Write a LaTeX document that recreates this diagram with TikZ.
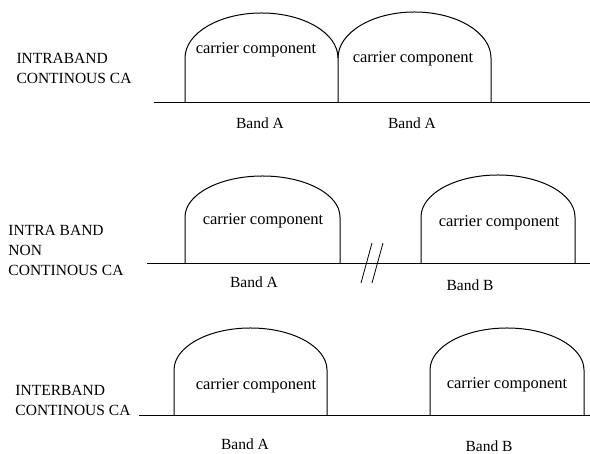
\documentclass[tikz,border=0pt]{standalone}
\usepackage{fontspec}
\setmainfont{Liberation Serif}
\begin{document}
\begin{tikzpicture}[x=1pt,y=1pt,line width=1pt,
  cc/.style={font=\fontsize{16.5}{19}\selectfont,inner sep=0pt},
  band/.style={font=\fontsize{15.5}{18}\selectfont,inner sep=0pt},
  lbl/.style={font=\fontsize{15.5}{20}\selectfont,align=left,anchor=west,inner sep=0pt},
  dome/.style={line join=round}]
\useasboundingbox (0,0) rectangle (590,454);
% ---------- panel 1 ----------
\coordinate (b1s) at (154,351);
\coordinate (b1e) at (590,351);
\draw (b1s) -- (b1e);
\draw[dome] (185,351) -- (185,396) arc[start angle=180,end angle=0,x radius=76.5pt,y radius=45pt] -- (338,351);
\draw[dome] (338,396) arc[start angle=180,end angle=0,x radius=76.5pt,y radius=46pt] -- (491,351);
\node[cc] (c11) at (256,404) {carrier component};
\node[cc] (c12) at (413,395) {carrier component};
\node[band] (ba11) at (260,331) {Band A};
\node[band] (ba12) at (412,331) {Band A};
\node[lbl] (l1) at (16,386) {INTRABAND\\CONTINOUS CA};
% ---------- panel 2 ----------
\coordinate (b2s) at (147,190);
\coordinate (b2e) at (590,190);
\draw (b2s) -- (b2e);
\draw[dome] (185,190) -- (185,237) arc[start angle=180,end angle=0,x radius=77.5pt,y radius=41pt] -- (340,190);
\draw[dome] (421,190) -- (421,237) arc[start angle=180,end angle=0,x radius=77pt,y radius=42pt] -- (575,190);
\node[cc] (c21) at (263,233) {carrier component};
\node[cc] (c22) at (499,231) {carrier component};
\node[band] (ba21) at (254,172) {Band A};
\node[band] (ba22) at (470,169) {Band B};
\node[lbl] (l2) at (8,204) {INTRA BAND\\NON\\CONTINOUS CA};
\coordinate (k1a) at (361,171);
\coordinate (k1b) at (372,211);
\coordinate (k2a) at (372,171);
\coordinate (k2b) at (383,211);
\draw[line width=0.8pt] (k1a) -- (k1b);
\draw[line width=0.8pt] (k2a) -- (k2b);
% ---------- panel 3 ----------
\coordinate (b3s) at (139,38);
\coordinate (b3e) at (590,38);
\draw (b3s) -- (b3e);
\draw[dome] (174,38) -- (174,84) arc[start angle=180,end angle=0,x radius=76.5pt,y radius=42pt] -- (327,38);
\draw[dome] (430,38) -- (430,84) arc[start angle=180,end angle=0,x radius=77pt,y radius=42pt] -- (584,38);
\node[cc] (c31) at (256,68) {carrier component};
\node[cc] (c32) at (507,69) {carrier component};
\node[band] (ba31) at (245,10) {Band A};
\node[band] (ba32) at (489,8) {Band B};
\node[lbl] (l3) at (15,54) {INTERBAND\\CONTINOUS CA};
\end{tikzpicture}
\end{document}
